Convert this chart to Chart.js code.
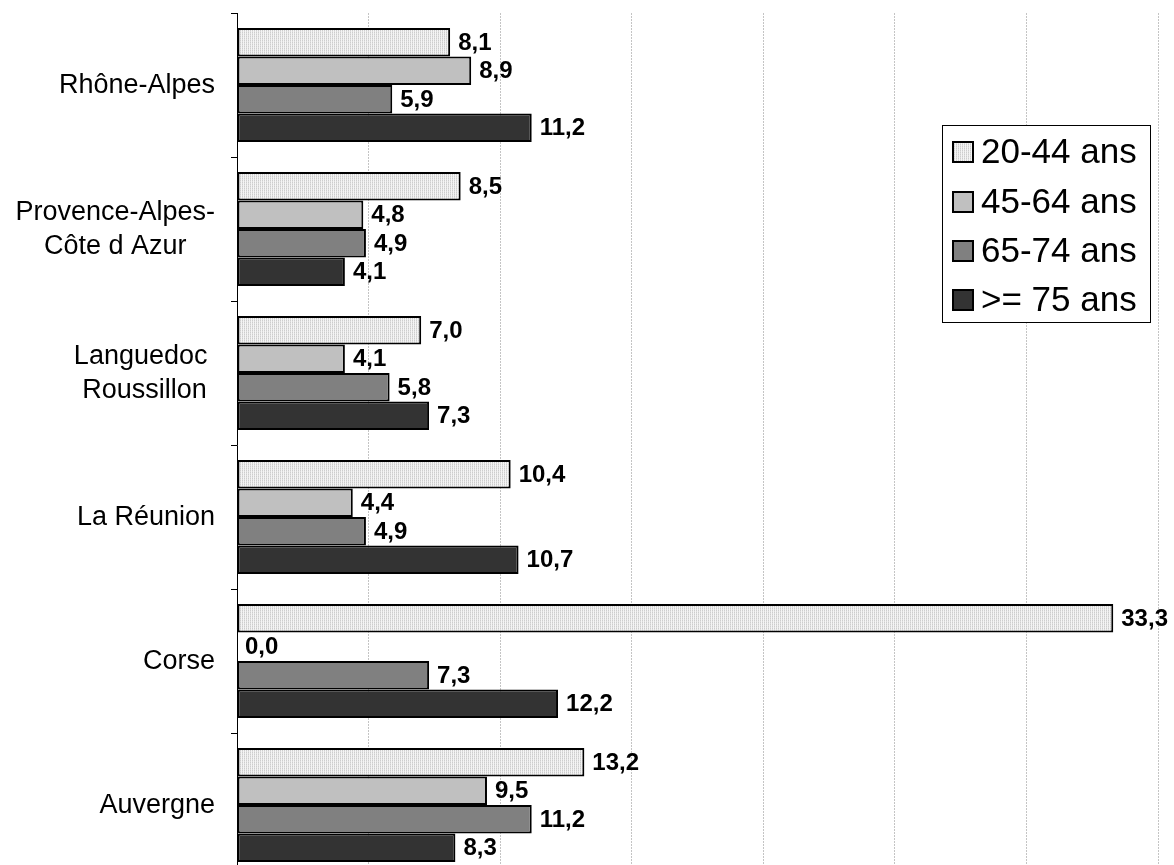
<!DOCTYPE html>
<html>
<head>
<meta charset="utf-8">
<script src="https://cdn.jsdelivr.net/npm/chart.js@4/dist/chart.umd.min.js"></script>
<style>
  html, body { margin: 0; padding: 0; background: #fff; overflow: hidden; }
  canvas { display: block; }
</style>
</head>
<body>
<canvas id="c" width="1174" height="877"></canvas>
<script>
// ---- Data ----
const categories = [
  ['Rhône-Alpes'],
  ['Provence-Alpes-', 'Côte d Azur'],
  ['Languedoc ', 'Roussillon'],
  ['La Réunion'],
  ['Corse'],
  ['Auvergne']
];
const seriesNames = ['20-44 ans', '45-64 ans', '65-74 ans', '>= 75 ans'];
const s20_44 = [8.1, 8.5, 7.0, 10.4, 33.3, 13.2];
const s45_64 = [8.9, 4.8, 4.1, 4.4, 0.0, 9.5];
const s65_74 = [5.9, 4.9, 5.8, 4.9, 7.3, 11.2];
const s75plus = [11.2, 4.1, 7.3, 10.7, 12.2, 8.3];
const xMin = 0, xMax = 35, xStep = 5;

// ---- Styles ----
const FONT = '"Liberation Sans", Arial, Helvetica, sans-serif';
function makePattern() {
  const p = document.createElement('canvas');
  p.width = 2; p.height = 2;
  const g = p.getContext('2d');
  g.fillStyle = '#f4f4f4'; g.fillRect(0, 0, 2, 2);
  g.fillStyle = '#cdcdcd'; g.fillRect(0, 0, 1, 1);
  g.fillStyle = '#dedede'; g.fillRect(0, 1, 1, 1);
  return document.getElementById('c').getContext('2d').createPattern(p, 'repeat');
}
const fills = [makePattern(), '#c0c0c0', '#808080', '#333333'];
const seriesData = [s20_44, s45_64, s65_74, s75plus];

const datasets = seriesNames.map((name, i) => ({
  label: name,
  data: seriesData[i],
  backgroundColor: fills[i],
  borderColor: '#000000',
  borderWidth: 2,
  borderSkipped: false,
  categoryPercentage: 0.79,
  barPercentage: 1.0
}));

const labelsPlugin = {
  id: 'customLabels',
  afterDatasetsDraw(chart) {
    const ctx = chart.ctx;
    ctx.save();
    // value labels
    ctx.font = 'bold 24px ' + FONT;
    ctx.fillStyle = '#000';
    ctx.textAlign = 'left';
    ctx.textBaseline = 'middle';
    chart.data.datasets.forEach((ds, di) => {
      const meta = chart.getDatasetMeta(di);
      meta.data.forEach((bar, i) => {
        const v = ds.data[i];
        ctx.fillText(v.toFixed(1).replace('.', ','), bar.x + 8, bar.y + 1);
      });
    });
    // category labels (centred block, right-aligned against the axis)
    const y = chart.scales.y;
    ctx.font = '27px ' + FONT;
    ctx.textAlign = 'center';
    const right = chart.chartArea.left - 22;
    const lineH = 34;
    chart.data.labels.forEach((lines, i) => {
      const cy = y.getPixelForValue(i);
      let maxW = 0;
      lines.forEach(l => { maxW = Math.max(maxW, ctx.measureText(l).width); });
      const cx = right - maxW / 2;
      const y0 = cy - (lines.length - 1) * lineH / 2;
      lines.forEach((l, k) => ctx.fillText(l, cx, y0 + k * lineH + 1));
    });
    // legend box
    const lx = 942, ly = 125, lw = 208, lh = 197;
    ctx.fillStyle = '#fff';
    ctx.fillRect(lx, ly, lw, lh);
    ctx.strokeStyle = '#000';
    ctx.lineWidth = 1;
    ctx.strokeRect(lx + 0.5, ly + 0.5, lw, lh);
    ctx.font = '35px ' + FONT;
    ctx.textAlign = 'left';
    const rows = [152, 202, 251, 300];
    chart.data.datasets.forEach((ds, di) => {
      const cyy = rows[di];
      ctx.fillStyle = ds.backgroundColor;
      ctx.fillRect(953, cyy - 10, 20, 20);
      ctx.lineWidth = 2;
      ctx.strokeStyle = '#000';
      ctx.strokeRect(953, cyy - 10, 20, 20);
      ctx.fillStyle = '#000';
      ctx.fillText(ds.label, 981, cyy + 1);
    });
    ctx.restore();
  }
};

new Chart(document.getElementById('c'), {
  type: 'bar',
  data: { labels: categories, datasets },
  plugins: [labelsPlugin],
  options: {
    indexAxis: 'y',
    responsive: false,
    animation: false,
    devicePixelRatio: 1,
    layout: { padding: { top: 13, right: 16, left: 0, bottom: 0 } },
    plugins: { legend: { display: false }, tooltip: { enabled: false } },
    scales: {
      x: {
        min: xMin, max: xMax,
        ticks: { display: false, stepSize: xStep },
        grid: { color: '#c4c4c4', lineWidth: 1, drawTicks: false },
        border: { display: false, dash: [2, 1] },
        afterFit(scale) { scale.height = 0; }
      },
      y: {
        ticks: { display: false },
        grid: { drawOnChartArea: false, offset: true, tickLength: 6, color: '#000' },
        border: { display: true, color: '#000', width: 1 },
        afterFit(scale) { scale.width = 237; }
      }
    }
  }
});
</script>
</body>
</html>
